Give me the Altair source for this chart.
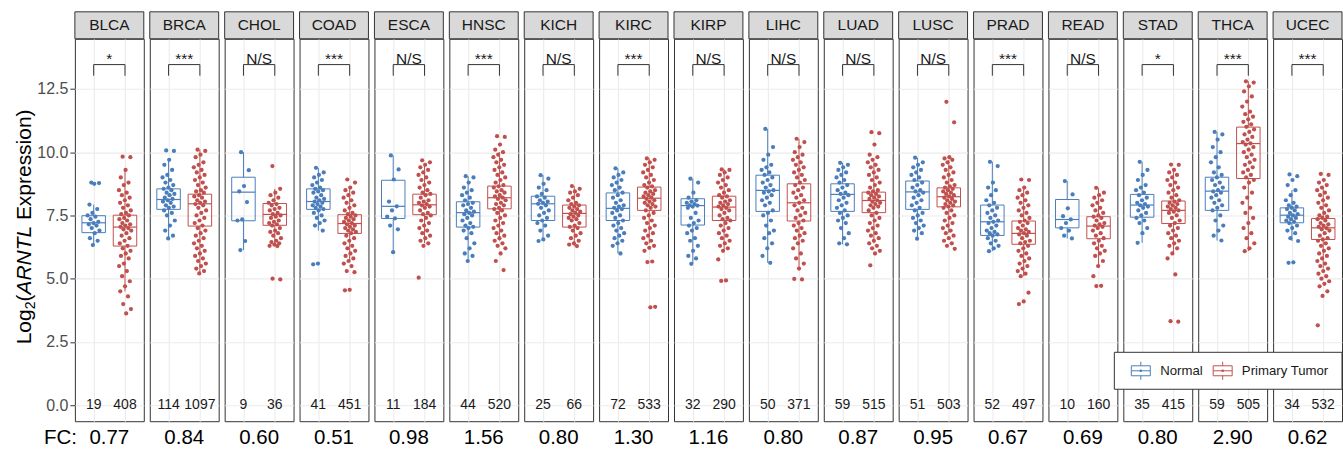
import altair as alt
import pandas as pd

FONT = "Liberation Sans"
BLUE = "#4a7ebb"
RED = "#c0504d"

CANCERS = ["BLCA", "BRCA", "CHOL", "COAD", "ESCA", "HNSC", "KICH", "KIRC", "KIRP",
           "LIHC", "LUAD", "LUSC", "PRAD", "READ", "STAD", "THCA", "UCEC"]
N_COUNT = [19, 114, 9, 41, 11, 44, 25, 72, 32, 50, 59, 51, 52, 10, 35, 59, 34]
T_COUNT = [408, 1097, 36, 451, 184, 520, 66, 533, 290, 371, 515, 503, 497, 160, 415, 505, 532]
FC = [0.77, 0.84, 0.60, 0.51, 0.98, 1.56, 0.80, 1.30, 1.16, 0.80, 0.87, 0.95, 0.67, 0.69, 0.80, 2.90, 0.62]
SIG = ["*", "***", "N/S", "***", "N/S", "***", "N/S", "***", "N/S", "N/S", "N/S", "N/S",
       "***", "N/S", "*", "***", "***"]

# box statistics (q1, median, q3)
N_Q1 = [6.82, 7.74, 7.29, 7.74, 7.38, 7.04, 7.30, 7.30, 7.12, 7.66, 7.66, 7.74, 6.71, 7.01, 7.43, 7.70, 7.21]
N_MED = [7.21, 8.13, 8.42, 8.05, 7.86, 7.61, 7.96, 7.78, 7.89, 8.49, 8.33, 8.43, 7.25, 7.34, 7.91, 8.46, 7.51]
N_Q3 = [7.49, 8.55, 9.01, 8.55, 8.89, 8.04, 8.26, 8.39, 8.16, 9.09, 8.75, 8.86, 7.91, 8.13, 8.33, 9.01, 7.80]
T_Q1 = [6.29, 7.08, 7.11, 6.79, 7.53, 7.76, 7.04, 7.70, 7.30, 7.28, 7.61, 7.84, 6.36, 6.58, 7.18, 8.96, 6.55]
T_MED = [7.04, 7.96, 7.54, 7.18, 7.92, 8.20, 7.58, 8.18, 7.83, 8.00, 8.09, 8.24, 6.79, 7.08, 7.70, 10.34, 7.01]
T_Q3 = [7.51, 8.34, 7.97, 7.53, 8.34, 8.66, 7.91, 8.62, 8.26, 8.75, 8.42, 8.59, 7.28, 7.45, 8.07, 10.99, 7.38]

# representative expression values read from the jittered points
NORMAL_PTS = {
    "BLCA": [8.8, 8.78, 8.75, 7.93, 7.75, 7.6, 7.5, 7.45, 7.35, 7.25, 7.2, 7.15, 7.1, 7.0, 6.9, 6.8, 6.6, 6.5, 6.33],
    "BRCA": [10.07, 10.05, 9.7, 9.5, 9.3, 9.1, 9.0, 8.9, 8.8, 8.7, 8.6, 8.55, 8.5, 8.4, 8.35, 8.3, 8.2, 8.15, 8.1,
             8.05, 8.0, 7.9, 7.85, 7.8, 7.7, 7.6, 7.5, 7.3, 7.1, 6.9, 6.7, 6.59],
    "CHOL": [10.0, 9.29, 8.66, 8.45, 8.03, 7.34, 7.3, 6.49, 6.13],
    "COAD": [9.38, 9.2, 9.1, 9.0, 8.9, 8.8, 8.7, 8.6, 8.55, 8.5, 8.45, 8.4, 8.3, 8.2, 8.15, 8.1, 8.05, 8.0, 7.95,
             7.9, 7.85, 7.8, 7.75, 7.7, 7.6, 7.5, 7.4, 7.3, 7.2, 7.1, 6.9, 5.6, 5.57],
    "ESCA": [9.87, 9.32, 8.92, 8.05, 7.86, 7.7, 7.45, 7.38, 7.1, 6.95, 6.05],
    "HNSC": [9.05, 9.0, 8.8, 8.6, 8.5, 8.4, 8.3, 8.2, 8.1, 8.0, 7.95, 7.9, 7.8, 7.7, 7.65, 7.6, 7.55, 7.5, 7.4,
             7.3, 7.2, 7.1, 7.05, 7.0, 6.9, 6.8, 6.6, 6.4, 6.2, 6.0, 5.9, 5.7],
    "KICH": [9.09, 8.95, 8.75, 8.6, 8.5, 8.35, 8.25, 8.2, 8.1, 8.05, 8.0, 7.96, 7.9, 7.8, 7.7, 7.6, 7.5, 7.4,
             7.3, 7.2, 7.1, 6.9, 6.7, 6.55, 6.49],
    "KIRC": [9.36, 9.2, 9.1, 9.0, 8.9, 8.8, 8.7, 8.6, 8.5, 8.4, 8.3, 8.2, 8.1, 8.0, 7.9, 7.85, 7.8, 7.75, 7.7,
             7.6, 7.5, 7.4, 7.3, 7.2, 7.1, 7.0, 6.9, 6.8, 6.7, 6.6, 6.5, 6.4, 6.3, 6.0],
    "KIRP": [8.95, 8.8, 8.4, 8.2, 8.1, 8.05, 8.0, 7.95, 7.9, 7.89, 7.85, 7.8, 7.6, 7.4, 7.3, 7.2, 7.1, 7.0,
             6.9, 6.8, 6.6, 6.5, 6.3, 6.1, 5.9, 5.8, 5.59],
    "LIHC": [10.92, 10.2, 9.9, 9.7, 9.5, 9.4, 9.3, 9.2, 9.1, 9.0, 8.9, 8.8, 8.7, 8.6, 8.5, 8.45, 8.4, 8.3, 8.2,
             8.1, 8.0, 7.9, 7.7, 7.6, 7.5, 7.3, 7.1, 6.9, 6.8, 6.6, 6.4, 6.2, 5.9, 5.63],
    "LUAD": [9.58, 9.5, 9.4, 9.3, 9.2, 9.1, 9.0, 8.9, 8.8, 8.7, 8.6, 8.5, 8.4, 8.35, 8.3, 8.2, 8.1, 8.0, 7.9,
             7.8, 7.7, 7.6, 7.5, 7.4, 7.3, 7.2, 7.0, 6.8, 6.6, 6.4, 6.36],
    "LUSC": [9.78, 9.6, 9.5, 9.4, 9.3, 9.2, 9.1, 9.0, 8.9, 8.8, 8.7, 8.6, 8.5, 8.45, 8.4, 8.3, 8.2, 8.1, 8.0,
             7.9, 7.8, 7.7, 7.6, 7.5, 7.4, 7.3, 7.2, 7.1, 7.0, 6.9, 6.8, 6.58],
    "PRAD": [9.62, 9.45, 8.8, 8.6, 8.5, 8.3, 8.1, 8.0, 7.9, 7.8, 7.7, 7.6, 7.5, 7.4, 7.3, 7.25, 7.2, 7.1, 7.0,
             6.9, 6.85, 6.8, 6.75, 6.7, 6.6, 6.5, 6.4, 6.3, 6.2, 6.09],
    "READ": [8.86, 8.33, 7.78, 7.47, 7.34, 7.2, 7.0, 6.9, 6.7, 6.59],
    "STAD": [9.62, 9.3, 9.1, 8.9, 8.7, 8.6, 8.5, 8.4, 8.3, 8.2, 8.1, 8.0, 7.95, 7.9, 7.85, 7.8, 7.7, 7.6, 7.5,
             7.4, 7.3, 7.2, 7.0, 6.8, 6.42],
    "THCA": [10.8, 10.7, 10.5, 10.2, 10.0, 9.8, 9.6, 9.4, 9.2, 9.1, 9.0, 8.9, 8.8, 8.7, 8.6, 8.5, 8.45, 8.4,
             8.3, 8.2, 8.1, 8.0, 7.9, 7.8, 7.7, 7.5, 7.3, 7.1, 6.9, 6.7, 6.51],
    "UCEC": [9.12, 9.05, 8.9, 8.7, 8.5, 8.3, 8.1, 8.0, 7.9, 7.85, 7.8, 7.75, 7.7, 7.6, 7.55, 7.5, 7.45, 7.4,
             7.35, 7.3, 7.25, 7.2, 7.1, 7.0, 6.9, 6.8, 6.6, 6.49, 5.65, 5.63],
}
TUMOR_PTS = {
    "BLCA": [9.82, 9.8, 9.3, 9.0, 8.8, 8.7, 8.5, 8.4, 8.3, 8.2, 8.1, 8.0, 7.9, 7.8, 7.7, 7.6, 7.55, 7.5, 7.4,
             7.35, 7.3, 7.2, 7.15, 7.1, 7.05, 7.0, 6.95, 6.9, 6.8, 6.7, 6.6, 6.5, 6.4, 6.3, 6.2, 6.1, 6.0, 5.9,
             5.8, 5.6, 5.5, 5.3, 5.1, 4.9, 4.7, 4.5, 4.3, 4.0, 3.8, 3.63],
    "BRCA": [10.1, 10.05, 9.9, 9.8, 9.6, 9.5, 9.4, 9.3, 9.2, 9.1, 9.0, 8.9, 8.8, 8.7, 8.6, 8.5, 8.45, 8.4,
             8.3, 8.25, 8.2, 8.1, 8.05, 8.0, 7.95, 7.9, 7.8, 7.7, 7.6, 7.5, 7.4, 7.3, 7.2, 7.1, 7.0, 6.9, 6.8,
             6.7, 6.6, 6.5, 6.4, 6.3, 6.2, 6.1, 6.0, 5.9, 5.8, 5.7, 5.6, 5.5, 5.4, 5.3, 5.21],
    "CHOL": [9.45, 8.55, 8.4, 8.3, 8.2, 8.1, 8.0, 7.95, 7.9, 7.8, 7.75, 7.7, 7.6, 7.55, 7.5, 7.45, 7.4, 7.3,
             7.25, 7.2, 7.15, 7.1, 7.0, 6.9, 6.85, 6.8, 6.7, 6.6, 6.5, 6.45, 6.4, 6.35, 6.3, 6.29, 5.0, 4.97],
    "COAD": [8.92, 8.8, 8.6, 8.5, 8.4, 8.3, 8.2, 8.1, 8.0, 7.9, 7.8, 7.7, 7.6, 7.55, 7.5, 7.45, 7.4, 7.35,
             7.3, 7.25, 7.2, 7.15, 7.1, 7.05, 7.0, 6.95, 6.9, 6.85, 6.8, 6.7, 6.6, 6.5, 6.4, 6.3, 6.2, 6.1,
             6.0, 5.9, 5.8, 5.7, 5.6, 5.5, 5.3, 5.26, 4.56, 4.54],
    "ESCA": [9.68, 9.6, 9.5, 9.4, 9.3, 9.2, 9.1, 9.0, 8.9, 8.8, 8.7, 8.6, 8.5, 8.4, 8.35, 8.3, 8.2, 8.1, 8.05,
             8.0, 7.95, 7.9, 7.85, 7.8, 7.7, 7.6, 7.55, 7.5, 7.4, 7.3, 7.2, 7.1, 7.0, 6.9, 6.8, 6.7, 6.6, 6.5,
             6.4, 6.3, 5.04],
    "HNSC": [10.63, 10.6, 10.3, 10.1, 10.0, 9.9, 9.8, 9.7, 9.6, 9.5, 9.4, 9.3, 9.2, 9.1, 9.0, 8.9, 8.8, 8.7,
             8.65, 8.6, 8.5, 8.45, 8.4, 8.3, 8.25, 8.2, 8.15, 8.1, 8.0, 7.95, 7.9, 7.8, 7.75, 7.7, 7.6, 7.5,
             7.4, 7.3, 7.2, 7.1, 7.0, 6.9, 6.8, 6.7, 6.6, 6.5, 6.4, 6.3, 6.2, 6.0, 5.7, 5.34],
    "KICH": [8.66, 8.55, 8.45, 8.4, 8.3, 8.2, 8.1, 8.0, 7.95, 7.9, 7.85, 7.8, 7.75, 7.7, 7.65, 7.6, 7.55, 7.5,
             7.45, 7.4, 7.35, 7.3, 7.2, 7.1, 7.05, 7.0, 6.9, 6.8, 6.7, 6.6, 6.5, 6.4, 6.35, 6.29],
    "KIRC": [9.75, 9.7, 9.6, 9.5, 9.4, 9.3, 9.2, 9.1, 9.0, 8.9, 8.8, 8.7, 8.65, 8.6, 8.5, 8.45, 8.4, 8.35,
             8.3, 8.25, 8.2, 8.15, 8.1, 8.05, 8.0, 7.95, 7.9, 7.85, 7.8, 7.7, 7.6, 7.5, 7.4, 7.3, 7.2, 7.1,
             7.0, 6.9, 6.8, 6.7, 6.6, 6.5, 6.4, 6.3, 6.22, 6.1, 5.68, 5.66, 3.89, 3.87],
    "KIRP": [9.32, 9.3, 9.2, 9.1, 9.0, 8.9, 8.8, 8.7, 8.6, 8.5, 8.4, 8.3, 8.25, 8.2, 8.1, 8.05, 8.0, 7.95,
             7.9, 7.85, 7.8, 7.75, 7.7, 7.6, 7.5, 7.4, 7.35, 7.3, 7.2, 7.1, 7.0, 6.9, 6.8, 6.7, 6.6, 6.5, 6.4,
             6.3, 6.2, 6.1, 5.76, 4.93, 4.91],
    "LIHC": [10.53, 10.4, 10.2, 10.0, 9.9, 9.8, 9.7, 9.6, 9.5, 9.4, 9.3, 9.2, 9.1, 9.0, 8.9, 8.8, 8.7, 8.6,
             8.5, 8.4, 8.3, 8.2, 8.1, 8.0, 7.9, 7.8, 7.7, 7.6, 7.5, 7.4, 7.3, 7.2, 7.1, 7.0, 6.9, 6.8, 6.7,
             6.6, 6.5, 6.4, 6.2, 6.0, 5.8, 5.6, 5.4, 4.99, 4.97],
    "LUAD": [10.79, 10.75, 10.3, 9.9, 9.8, 9.7, 9.6, 9.5, 9.4, 9.3, 9.2, 9.1, 9.0, 8.9, 8.8, 8.7, 8.6, 8.5,
             8.45, 8.4, 8.35, 8.3, 8.25, 8.2, 8.15, 8.1, 8.05, 8.0, 7.95, 7.9, 7.85, 7.8, 7.7, 7.6, 7.5, 7.4,
             7.3, 7.2, 7.1, 7.0, 6.9, 6.8, 6.7, 6.6, 6.5, 6.4, 6.3, 6.2, 6.1, 6.0, 5.53],
    "LUSC": [11.99, 11.18, 9.8, 9.75, 9.7, 9.6, 9.5, 9.4, 9.3, 9.2, 9.1, 9.0, 8.9, 8.8, 8.7, 8.65, 8.6, 8.55,
             8.5, 8.45, 8.4, 8.35, 8.3, 8.25, 8.2, 8.15, 8.1, 8.05, 8.0, 7.95, 7.9, 7.85, 7.8, 7.7, 7.6, 7.5,
             7.4, 7.3, 7.2, 7.1, 7.0, 6.9, 6.8, 6.7, 6.6, 6.5, 6.4, 6.3, 6.18],
    "PRAD": [8.92, 8.9, 8.6, 8.5, 8.4, 8.3, 8.2, 8.1, 8.0, 7.9, 7.8, 7.7, 7.6, 7.5, 7.4, 7.3, 7.25, 7.2, 7.1,
             7.0, 6.95, 6.9, 6.85, 6.8, 6.75, 6.7, 6.6, 6.5, 6.45, 6.4, 6.3, 6.2, 6.1, 6.0, 5.9, 5.8, 5.7, 5.6,
             5.5, 5.4, 5.3, 5.2, 5.1, 4.45, 4.1, 4.0],
    "READ": [8.59, 8.4, 8.3, 8.2, 8.1, 8.0, 7.9, 7.8, 7.7, 7.6, 7.5, 7.45, 7.4, 7.3, 7.2, 7.15, 7.1, 7.05, 7.0,
             6.9, 6.8, 6.7, 6.6, 6.5, 6.4, 6.3, 6.2, 6.1, 6.0, 5.9, 5.7, 5.5, 5.1, 4.72, 4.71],
    "STAD": [9.51, 9.5, 9.3, 9.2, 9.1, 9.0, 8.9, 8.8, 8.7, 8.6, 8.5, 8.4, 8.3, 8.2, 8.1, 8.05, 8.0, 7.95, 7.9,
             7.85, 7.8, 7.75, 7.7, 7.65, 7.6, 7.5, 7.4, 7.3, 7.2, 7.1, 7.0, 6.9, 6.8, 6.7, 6.6, 6.5, 6.4, 6.3,
             6.2, 6.0, 5.8, 5.17, 3.32, 3.30],
    "THCA": [12.8, 12.75, 12.6, 12.4, 12.2, 12.0, 11.8, 11.6, 11.5, 11.4, 11.3, 11.2, 11.1, 11.0, 10.9, 10.8,
             10.7, 10.6, 10.5, 10.4, 10.35, 10.3, 10.2, 10.1, 10.0, 9.9, 9.8, 9.7, 9.6, 9.5, 9.4, 9.3, 9.2, 9.1,
             9.0, 8.9, 8.8, 8.6, 8.4, 8.2, 8.0, 7.8, 7.6, 7.4, 7.2, 7.0, 6.8, 6.6, 6.4, 6.2, 6.09],
    "UCEC": [9.14, 9.1, 8.9, 8.8, 8.7, 8.6, 8.5, 8.4, 8.3, 8.2, 8.1, 8.0, 7.9, 7.8, 7.7, 7.6, 7.5, 7.45, 7.4,
             7.35, 7.3, 7.2, 7.15, 7.1, 7.05, 7.0, 6.95, 6.9, 6.8, 6.7, 6.6, 6.55, 6.5, 6.4, 6.3, 6.2, 6.1, 6.0,
             5.9, 5.8, 5.7, 5.6, 5.5, 5.4, 5.3, 5.2, 5.1, 5.0, 4.9, 4.8, 4.7, 4.5, 4.32, 3.16],
}

GROUPS = ["Normal", "Primary Tumor"]
GROUP_COLORS = [BLUE, RED]

rows = []
for ci, c in enumerate(CANCERS):
    specs = [
        (NORMAL_PTS[c], N_Q1[ci], N_MED[ci], N_Q3[ci], N_COUNT[ci]),
        (TUMOR_PTS[c], T_Q1[ci], T_MED[ci], T_Q3[ci], T_COUNT[ci]),
    ]
    for gi, (pts, q1, md, q3, n) in enumerate(specs):
        grp = GROUPS[gi]
        for i, v in enumerate(pts):
            jit = (((i * 0.618034 + 0.31) % 1.0) - 0.5) * 0.4
            rows.append(dict(kind="pt", cancer=c, group=grp, gi=gi, xj=gi + jit, value=v))
        iqr = q3 - q1
        whi = max([v for v in pts if v <= q3 + 1.5 * iqr] + [q3])
        wlo = min([v for v in pts if v >= q1 - 1.5 * iqr] + [q1])
        rows.append(dict(kind="box", cancer=c, group=grp, gi=gi, xl=gi - 0.375, xr=gi + 0.375,
                         q1=q1, med=md, q3=q3, wlo=wlo, whi=whi))
        rows.append(dict(kind="count", cancer=c, gi=gi, n=str(n)))
    rows.append(dict(kind="panel", cancer=c, fc=FC[ci], sig=SIG[ci]))
# legend entries (drawn inside the last panel)
for gi, g in enumerate(GROUPS):
    rows.append(dict(kind="legend", cancer=CANCERS[-1], group=g, gi=gi))
df = pd.DataFrame(rows)

PANEL_W = 69
PANEL_H = 383

XS = alt.Scale(domain=[-0.6, 1.6], nice=False, zero=False)
YS = alt.Scale(domain=[-0.63, 14.48], nice=False, zero=False)
XA = alt.Axis(values=[0, 1], labels=False, ticks=False, domain=False, title=None,
              grid=True, gridColor="#ebebeb", gridWidth=1.1)
YA = alt.Axis(values=[i * 1.25 for i in range(12)],
              labelExpr="datum.value % 2.5 == 0 ? format(datum.value, '.1f') : ''",
              tickOpacity={"condition": {"test": "datum.value % 2.5 != 0", "value": 0}, "value": 1},
              gridWidth={"condition": {"test": "datum.value % 2.5 != 0", "value": 0.6}, "value": 1.1},
              gridColor="#ebebeb", domain=False, tickColor="#333333", tickSize=5, labelPadding=2,
              labelFontSize=16, labelColor="#4d4d4d", labelFont=FONT, title=None)
CS = alt.Scale(domain=GROUPS, range=GROUP_COLORS)

base = alt.Chart()
panel = base.transform_filter(alt.datum.kind == "panel")
first = base.transform_filter((alt.datum.kind == "panel") & (alt.datum.cancer == CANCERS[0]))

strip = panel.mark_rect(fill="#d9d9d9", stroke="#333333", strokeWidth=1).encode(
    x=alt.value(0), x2=alt.value(PANEL_W), y=alt.value(-27), y2=alt.value(0))
strip_txt = panel.mark_text(font=FONT, fontSize=15.5, color="#1a1a1a").encode(
    x=alt.value(PANEL_W / 2), y=alt.value(-13.5), text="cancer:N")

points = base.transform_filter(alt.datum.kind == "pt").mark_circle(size=18, opacity=1).encode(
    x=alt.X("xj:Q", scale=XS, axis=XA),
    y=alt.Y("value:Q", scale=YS, axis=YA),
    color=alt.Color("group:N", scale=CS, legend=None))

boxsrc = base.transform_filter(alt.datum.kind == "box")
boxes = boxsrc.mark_rect(fill="transparent", strokeWidth=1).encode(
    x=alt.X("xl:Q", scale=XS, axis=XA), x2="xr:Q",
    y=alt.Y("q1:Q", scale=YS, axis=YA), y2="q3:Q",
    stroke=alt.Stroke("group:N", scale=CS, legend=None))
medians = boxsrc.mark_rule(strokeWidth=1.2).encode(
    x=alt.X("xl:Q", scale=XS, axis=XA), x2="xr:Q",
    y=alt.Y("med:Q", scale=YS, axis=YA),
    stroke=alt.Stroke("group:N", scale=CS, legend=None))
wh_hi = boxsrc.mark_rule(strokeWidth=1).encode(
    x=alt.X("gi:Q", scale=XS, axis=XA),
    y=alt.Y("q3:Q", scale=YS, axis=YA), y2="whi:Q",
    stroke=alt.Stroke("group:N", scale=CS, legend=None))
wh_lo = boxsrc.mark_rule(strokeWidth=1).encode(
    x=alt.X("gi:Q", scale=XS, axis=XA),
    y=alt.Y("wlo:Q", scale=YS, axis=YA), y2="q1:Q",
    stroke=alt.Stroke("group:N", scale=CS, legend=None))

br_h = panel.mark_rule(color="#333333", strokeWidth=1).encode(
    x=alt.datum(0), x2=alt.datum(1), y=alt.datum(13.46))
br_l = panel.mark_rule(color="#333333", strokeWidth=1).encode(
    x=alt.datum(0), y=alt.datum(13.02), y2=alt.datum(13.46))
br_r = panel.mark_rule(color="#333333", strokeWidth=1).encode(
    x=alt.datum(1), y=alt.datum(13.02), y2=alt.datum(13.46))
sig = panel.mark_text(font=FONT, fontSize=15.5, color="#1a1a1a", baseline="alphabetic", dy=-1).encode(
    x=alt.datum(0.5), y=alt.datum(13.46), text="sig:N")

counts = base.transform_filter(alt.datum.kind == "count").mark_text(
    font=FONT, fontSize=14, color="#1a1a1a").encode(
    x=alt.X("gi:Q", scale=XS, axis=XA), y=alt.datum(0), text="n:N")

fc = panel.mark_text(font=FONT, fontSize=20.5, color="black").encode(
    x=alt.datum(0.5), y=alt.value(PANEL_H + 17), text=alt.Text("fc:Q", format=".2f"))
fc_lab = first.mark_text(font=FONT, fontSize=20.5, color="black", align="right").encode(
    x=alt.value(2), y=alt.value(PANEL_H + 17), text=alt.value("FC:"))

# y-axis title with subscript and italic gene symbol (rotated text pieces)
TX = -44
def title_piece(txt, ypos, size=21, style="normal", dx=0):
    return first.mark_text(font=FONT, fontSize=size, fontStyle=style, color="black",
                           angle=270, align="left", baseline="alphabetic").encode(
        x=alt.value(TX + dx), y=alt.value(ypos), text=alt.value(txt))

t1 = title_piece("Log", 306)
t2 = title_piece("2", 271.0, size=14, dx=4)
t3 = title_piece("(", 263.2)
t4 = title_piece("ARNTL", 256.2, style="italic")
t5 = title_piece("Expression)", 181.6)

# legend drawn inside the last panel (overlapping the previous one)
legsrc = base.transform_filter(alt.datum.kind == "legend")
leg_frame = legsrc.transform_filter(alt.datum.gi == 0).mark_rect(
    fill="white", stroke="#333333", strokeWidth=1).encode(
    x=alt.value(-159), x2=alt.value(PANEL_W), y=alt.value(314), y2=alt.value(351))
LEG_CX = [-132.5, -50.5]
LEG_TX = [-113, -31.3]
leg_layers = []
for gi, col in enumerate(GROUP_COLORS):
    src = legsrc.transform_filter(alt.datum.gi == gi)
    cx = LEG_CX[gi]
    leg_layers += [
        src.mark_rect(fill="transparent", stroke=col, strokeWidth=1).encode(
            x=alt.value(cx - 9.5), x2=alt.value(cx + 9.5), y=alt.value(327.5), y2=alt.value(337.5)),
        src.mark_rule(color=col, strokeWidth=1).encode(
            x=alt.value(cx - 9.5), x2=alt.value(cx + 9.5), y=alt.value(332.5)),
        src.mark_rule(color=col, strokeWidth=1).encode(
            x=alt.value(cx), y=alt.value(323.5), y2=alt.value(327.5)),
        src.mark_rule(color=col, strokeWidth=1).encode(
            x=alt.value(cx), y=alt.value(337.5), y2=alt.value(341.5)),
        src.mark_circle(color=col, size=7, opacity=1).encode(
            x=alt.value(cx), y=alt.value(332.5)),
        src.mark_text(font=FONT, fontSize=13.2, color="#1a1a1a", align="left", baseline="middle").encode(
            x=alt.value(LEG_TX[gi]), y=alt.value(332.5), text="group:N"),
    ]

layered = alt.layer(strip, strip_txt, points, boxes, medians, wh_hi, wh_lo,
                    br_h, br_l, br_r, sig, counts, fc, fc_lab,
                    t1, t2, t3, t4, t5, leg_frame, *leg_layers).properties(width=PANEL_W, height=PANEL_H)

chart = layered.facet(
    column=alt.Column("cancer:N", sort=CANCERS, title=None, header=alt.Header(labels=False)),
    data=df, spacing=6, bounds="flush",
).properties(
    padding={"left": 13, "top": 10.5, "right": 0, "bottom": 0},
    background="white",
).configure_view(stroke="#333333", strokeWidth=1)

chart.save("out.html", embed_options={"renderer": "svg", "actions": False})
